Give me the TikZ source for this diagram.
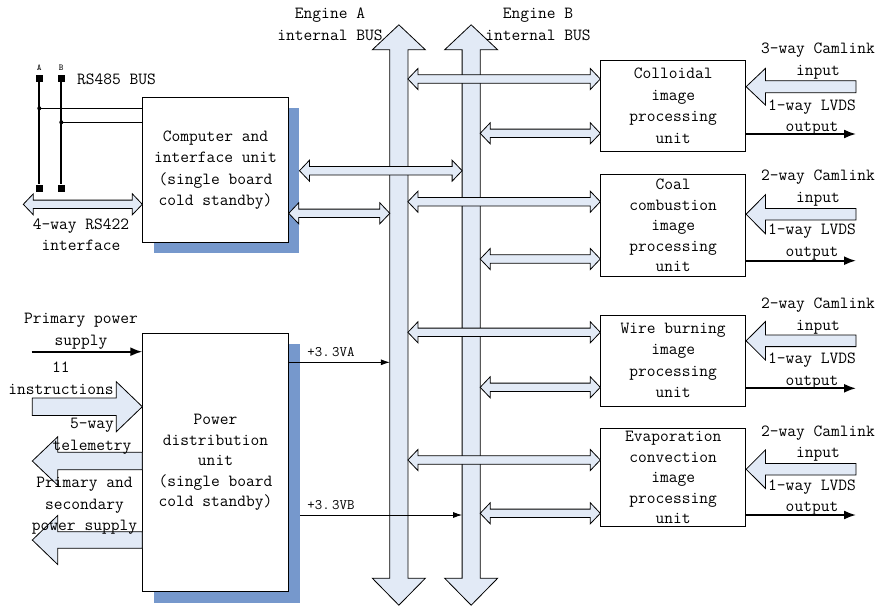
\documentclass[tikz,border=0pt]{standalone}
\usetikzlibrary{calc,arrows.meta}
\definecolor{paleblue}{RGB}{226,234,246}
\definecolor{shadowblue}{RGB}{118,152,204}

% horizontal two-headed hollow arrow between two points (y taken from the first)
\newcommand{\twoway}[2]{%
  \path[hollow] let \p1=(#1), \p2=(#2) in
    (\x1,\y1) -- (\x1+10pt,\y1+10.5pt) -- (\x1+10pt,\y1+4.2pt) -- (\x2-10pt,\y1+4.2pt)
    -- (\x2-10pt,\y1+10.5pt) -- (\x2,\y1) -- (\x2-10pt,\y1-10.5pt) -- (\x2-10pt,\y1-4.2pt)
    -- (\x1+10pt,\y1-4.2pt) -- (\x1+10pt,\y1-10.5pt) -- cycle;}
% one-headed hollow arrow: tip, tail, signed head length, head half-height, shaft half-height
\newcommand{\oneway}[5]{%
  \path[hollow] let \p1=(#1), \p2=(#2) in
    (\x1,\y1) -- (\x1+#3,\y1+#4) -- (\x1+#3,\y1+#5) -- (\x2,\y1+#5) -- (\x2,\y1-#5)
    -- (\x1+#3,\y1-#5) -- (\x1+#3,\y1-#4) -- cycle;}
% vertical bus drawn as a double-headed hollow arrow around a shaft node
\newcommand{\busarrow}[1]{%
  \path[hollow] let \p1=(#1.north west), \p2=(#1.south east), \p3=(#1.north) in
    (\x1,\y1) -- (\x1-17.5pt,\y1) -- (\x3,\y1+25pt) -- (\x2+17.5pt,\y1) -- (\x2,\y1)
    -- (\x2,\y2) -- (\x2+17.5pt,\y2) -- (\x3,\y2-27pt) -- (\x1-17.5pt,\y2) -- (\x1,\y2) -- cycle;}

\begin{document}
\begin{tikzpicture}[x=1pt,y=-1pt,
  txt/.style={font=\ttfamily\fontsize{17}{21.5}\selectfont, align=center, inner sep=0pt},
  txtfive/.style={font=\ttfamily\fontsize{17}{20.5}\selectfont},
  unitbox/.style={draw, fill=white, line width=0.8pt, txt},
  shadowbox/.style={fill=shadowblue, inner sep=0pt},
  hollow/.style={draw, fill=paleblue, line width=0.8pt, line join=miter},
  busshaft/.style={inner sep=0pt, minimum width=17.7pt, minimum height=528pt},
  feed/.style={line width=0.8pt, -{Latex[length=9pt,width=6pt]}},
  heavy/.style={line width=1.8pt, -{Latex[length=12pt,width=9pt]}},
  small/.style={font=\ttfamily\fontsize{14.5}{17}\selectfont, inner sep=0pt},
  tiny/.style={font=\ttfamily\fontsize{9}{10}\selectfont, inner sep=0pt},
  term/.style={fill=black, inner sep=0pt, minimum size=7pt},
]
\useasboundingbox (0,0) rectangle (886,608);

% ---- internal buses ----
\node[busshaft] (busA) at (398.85,314) {};
\node[busshaft] (busB) at (471.15,314) {};
\busarrow{busA}
\busarrow{busB}
\node[txt] (engA) at (330,24.5) {Engine A\\internal BUS};
\node[txt] (engB) at (538,24.5) {Engine B\\internal BUS};

% ---- left units ----
\node[shadowbox, minimum width=145.6pt, minimum height=145.4pt] (compsh) at (226.5,180.5) {};
\node[unitbox, minimum width=145.6pt, minimum height=145.4pt] (comp) at (215.5,170)
  {Computer and\\interface unit\\(single board\\cold standby)};
\node[shadowbox, minimum width=145.6pt, minimum height=258.4pt] (pwrsh) at (227,473.5) {};
\node[unitbox, txtfive, minimum width=145.6pt, minimum height=258.4pt] (pwr) at (215.5,462.5)
  {Power\\distribution\\unit\\(single board\\cold standby)};

% ---- right processing units ----
\node[unitbox, minimum width=145pt, minimum height=90.3pt] (coll) at (673.2,105.85)
  {Colloidal\\image\\processing\\unit};
\node[unitbox, txtfive, minimum width=145pt, minimum height=102.4pt] (coal) at (673.2,225.5)
  {Coal\\combustion\\image\\processing\\unit};
\node[unitbox, minimum width=145pt, minimum height=91pt] (wire) at (673.2,360.5)
  {Wire burning\\image\\processing\\unit};
\node[unitbox, txtfive, minimum width=145pt, minimum height=98.4pt] (evap) at (673.2,477.5)
  {Evaporation\\convection\\image\\processing\\unit};

% ---- bus links ----
\twoway{busA.east |- 0,79}{coll.west |- 0,79}
\twoway{busB.east |- 0,133.3}{coll.west |- 0,133.3}
\twoway{busA.east |- 0,201.7}{coal.west |- 0,201.7}
\twoway{busB.east |- 0,259}{coal.west |- 0,259}
\twoway{busA.east |- 0,332.3}{wire.west |- 0,332.3}
\twoway{busB.east |- 0,387.3}{wire.west |- 0,387.3}
\twoway{busA.east |- 0,460}{evap.west |- 0,460}
\twoway{busB.east |- 0,513.3}{evap.west |- 0,513.3}
\twoway{compsh.east |- 0,170.7}{busB.west |- 0,170.7}
\twoway{comp.east |- 0,213.3}{busA.west |- 0,213.3}

% ---- power feeds ----
\draw[feed] (pwr.east |- 0,362.3) -- (busA.west |- 0,362.3);
\draw[feed] (pwrsh.east |- 0,515) -- (busB.west |- 0,515);
\node[small] (va) at (331,352) {+3.\,3VA};
\node[small] (vb) at (331,505) {+3.\,3VB};

% ---- RS485 bus ----
\node[term] (At) at (39.3,78.5) {};
\node[term] (Ab) at (39.3,188) {};
\node[term] (Bt) at (61.3,78.5) {};
\node[term] (Bb) at (61.3,188) {};
\draw[line width=1.8pt] (At) -- (Ab);
\draw[line width=1.8pt] (Bt) -- (Bb);
\coordinate (Aj) at (39.3,108.3);
\coordinate (Bj) at (61.3,122.3);
\draw[line width=0.7pt] (Aj) -- (comp.west |- Aj);
\draw[line width=0.7pt] (Bj) -- (comp.west |- Bj);
\fill (Aj) circle (2pt);
\fill (Bj) circle (2pt);
\node[tiny] (la) at (39.3,68) {A};
\node[tiny] (lb) at (61.3,68) {B};
\node[txt, anchor=west] (rs485) at (77,79.3) {RS485 BUS};

% ---- RS422 interface ----
\coordinate (rsend) at (23.3,204.3);
\twoway{rsend}{comp.west |- rsend}
\node[txt] (rs422) at (81,234.5) {4-way RS422\\interface};

% ---- power unit inputs and outputs ----
\coordinate (psrc) at (31.7,351.7);
\draw[heavy] (psrc) -- (pwr.west |- psrc);
\node[txt] (ppl) at (81,331.3) {Primary power\\supply};

\coordinate (instail) at (32.3,406.7);
\oneway{pwr.west |- instail}{instail}{-26pt}{25pt}{8.7pt}
\node[txt] (insl) at (61,378.3) {11\\instructions};

\coordinate (teltip) at (32.3,461);
\oneway{teltip}{pwr.west |- teltip}{25.4pt}{24.2pt}{8.8pt}
\node[txt] (tell) at (92,436.3) {5-way\\telemetry};

\coordinate (psotip) at (32.3,540);
\oneway{psotip}{pwr.west |- psotip}{25.4pt}{24.5pt}{8.3pt}
\node[txt] (psol) at (84.5,506) {Primary and\\secondary\\power supply};

% ---- camera inputs and LVDS outputs ----
\coordinate (cin1) at (856,86.7);
\coordinate (cin2) at (856,214.2);
\coordinate (cin3) at (856,340.8);
\coordinate (cin4) at (856,469.2);
\oneway{coll.east |- cin1}{cin1}{19.3pt}{18.3pt}{6pt}
\oneway{coal.east |- cin2}{cin2}{19.3pt}{19.5pt}{5.8pt}
\oneway{wire.east |- cin3}{cin3}{19.3pt}{19.2pt}{5.8pt}
\oneway{evap.east |- cin4}{cin4}{19.3pt}{19.2pt}{5.8pt}

\coordinate (out1) at (856,134);
\coordinate (out2) at (856,260.7);
\coordinate (out3) at (856,388.3);
\coordinate (out4) at (856,515);
\draw[heavy] (coll.east |- out1) -- (out1);
\draw[heavy] (coal.east |- out2) -- (out2);
\draw[heavy] (wire.east |- out3) -- (out3);
\draw[heavy] (evap.east |- out4) -- (out4);

\node[txt] (cl1) at (818,61) {3-way Camlink\\input};
\node[txt] (ol1) at (812,117.5) {1-way LVDS\\output};
\node[txt] (cl2) at (818,188) {2-way Camlink\\input};
\node[txt] (ol2) at (812,242) {1-way LVDS\\output};
\node[txt] (cl3) at (818,316) {2-way Camlink\\input};
\node[txt] (ol3) at (812,371) {1-way LVDS\\output};
\node[txt] (cl4) at (818,443.5) {2-way Camlink\\input};
\node[txt] (ol4) at (812,497.5) {1-way LVDS\\output};
\end{tikzpicture}
\end{document}
